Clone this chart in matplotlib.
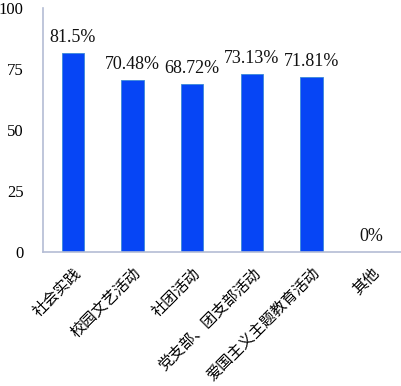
import matplotlib
matplotlib.use("Agg")
import matplotlib.pyplot as plt

categories = ["社会实践", "校园文艺活动", "社团活动", "党支部、团支部活动", "爱国主义主题教育活动", "其他"]
values = [81.5, 70.48, 68.72, 73.13, 71.81, 0]
value_labels = ["81.5%", "70.48%", "68.72%", "73.13%", "71.81%", "0%"]
yticks = [0, 25, 50, 75, 100]

W, H = 401, 386
fig = plt.figure(figsize=(W / 100, H / 100), dpi=100)
ax = fig.add_axes([43 / W, (H - 252) / H, 358 / W, 244 / H])

x = list(range(len(categories)))
ax.bar(x, values, width=0.37, color="#0645f5", edgecolor="#3a8ad8", linewidth=0.6)

for xi, v, lab in zip(x, values, value_labels):
    ax.text(xi, v + 2.8, lab, ha="center", va="bottom",
            fontsize=13, family="Liberation Serif", color="#111111")

ax.set_xlim(-0.5, 5.5)
ax.set_ylim(0, 100)
ax.set_yticks(yticks)
ax.set_yticklabels([str(t) for t in yticks], family="Liberation Serif", fontsize=12)
ax.tick_params(axis="y", length=0, pad=14)
ax.set_xticks(x)
ax.set_xticklabels(categories, rotation=45, ha="right", rotation_mode="anchor",
                   family=["Noto Sans CJK SC", "DejaVu Sans"], fontsize=11,
                   fontweight="medium")
ax.tick_params(axis="x", length=0, pad=9)

for side in ("top", "right"):
    ax.spines[side].set_visible(False)
for side in ("left", "bottom"):
    ax.spines[side].set_color("#b4bcd4")
    ax.spines[side].set_linewidth(1.2)

fig.savefig("out.png", dpi=100)
